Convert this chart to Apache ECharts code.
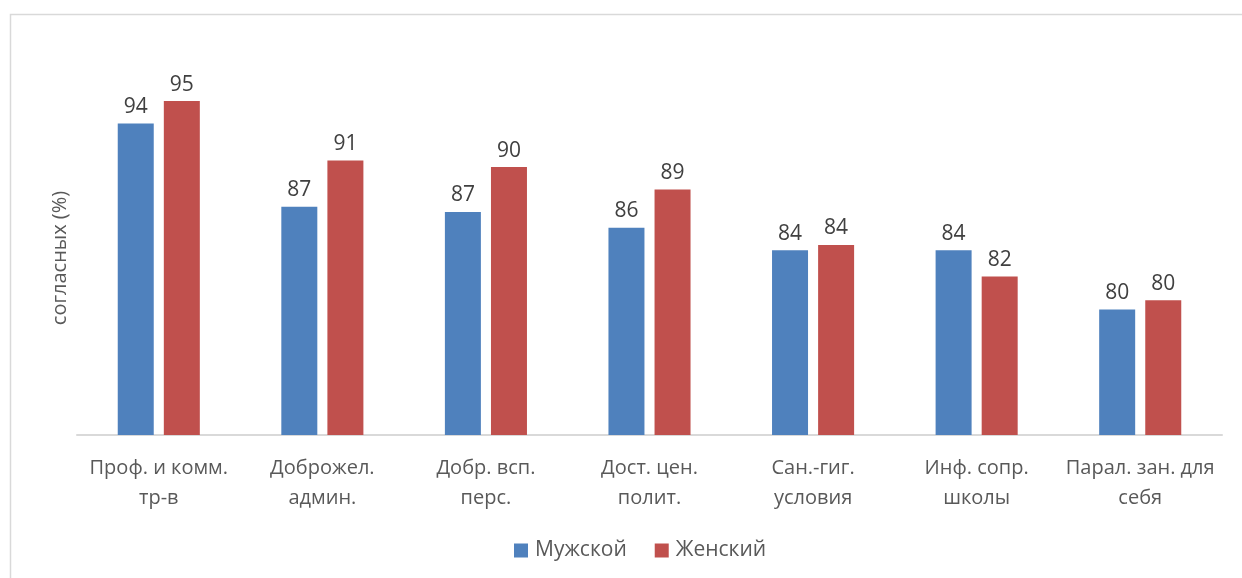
<!DOCTYPE html>
<html>
<head>
<meta charset="utf-8">
<script src="https://cdn.jsdelivr.net/npm/echarts@6/dist/echarts.min.js"></script>
<style>
  html, body { margin: 0; padding: 0; background: #fff; }
  #main { width: 1242px; height: 578px; }
</style>
</head>
<body>
<div id="main"></div>
<script>
var categories = ['Проф. и комм.\nтр-в', 'Доброжел.\nадмин.', 'Добр. всп.\nперс.', 'Дост. цен.\nполит.', 'Сан.-гиг.\nусловия', 'Инф. сопр.\nшколы', 'Парал. зан. для\nсебя'];
var male = [93.6, 87.3, 86.9, 85.7, 84.0, 84.0, 79.5];
var female = [95.3, 90.8, 90.3, 88.6, 84.4, 82.0, 80.2];

var myChart = echarts.init(document.getElementById('main'));
var font = '"Open Sans", "Noto Sans", sans-serif';

var label = {
    show: true,
    position: 'top',
    distance: 6,
    color: '#404040',
    fontSize: 21,
    fontFamily: font,
    formatter: function (p) { return Math.round(p.value); }
};

var option = {
    animation: false,
    graphic: [{
        type: 'rect',
        left: 8, top: 12,
        shape: { width: 1260, height: 600 },
        style: { fill: 'none', stroke: '#d9d9d9', lineWidth: 1.5 },
        silent: true
    }, {
        type: 'text',
        x: 60, y: 258,
        rotation: Math.PI / 2,
        style: {
            text: 'согласных (%)',
            fill: '#595959',
            fontSize: 20,
            fontFamily: font,
            align: 'center',
            verticalAlign: 'middle'
        },
        silent: true
    }],
    legend: {
        data: ['Мужской', 'Женский'],
        bottom: 12,
        left: 509,
        itemWidth: 14,
        itemHeight: 14,
        itemGap: 28,
        icon: 'rect',
        textStyle: { color: '#595959', fontSize: 21, fontFamily: font, padding: [0, 0, 0, 2] }
    },
    grid: { left: 77, right: 20, top: 39, bottom: 143 },
    xAxis: {
        type: 'category',
        data: categories,
        axisLine: { lineStyle: { color: '#d9d9d9', width: 2 } },
        axisTick: { show: false },
        axisLabel: {
            interval: 0,
            color: '#595959',
            fontSize: 20,
            fontFamily: font,
            lineHeight: 30,
            margin: 18
        }
    },
    yAxis: {
        type: 'value',
        min: 70,
        max: 100,
        axisLine: { show: false },
        axisTick: { show: false },
        axisLabel: { show: false },
        splitLine: { show: false }
    },
    series: [
        {
            name: 'Мужской',
            type: 'bar',
            data: male,
            barWidth: 36,
            barGap: '28%',
            itemStyle: { color: '#4f81bd' },
            label: label
        },
        {
            name: 'Женский',
            type: 'bar',
            data: female,
            barWidth: 36,
            itemStyle: { color: '#c0504d' },
            label: label
        }
    ]
};

myChart.setOption(option);
window.onresize = function () { myChart.resize(); };
</script>
</body>
</html>
